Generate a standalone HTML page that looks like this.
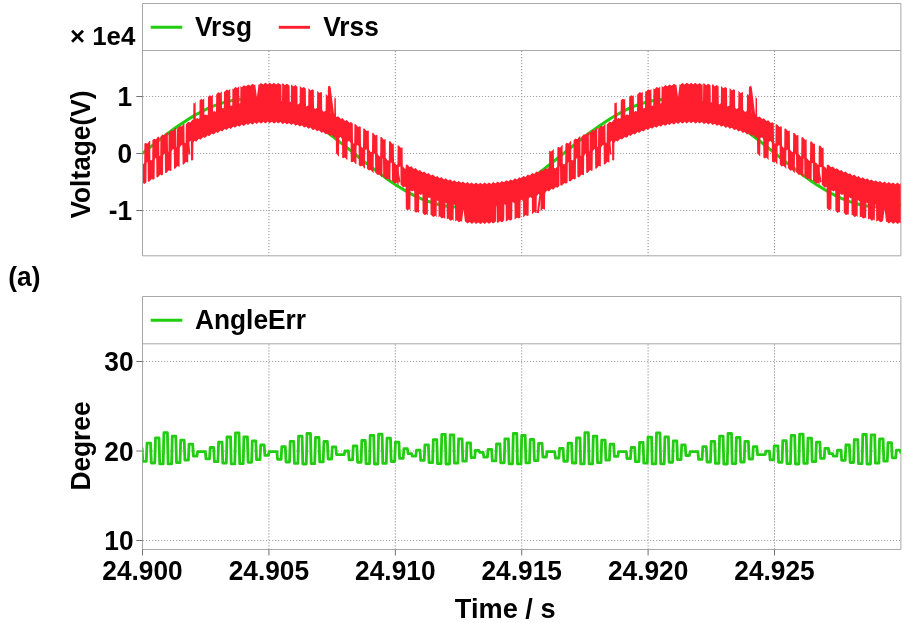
<!DOCTYPE html><html><head><meta charset="utf-8"><title>Voltage and AngleErr</title>
<style>html,body{margin:0;padding:0;background:#fff;overflow:hidden}svg{display:block}text{font-family:"Liberation Sans",Arial,sans-serif;font-weight:bold;fill:#000}</style></head><body>
<svg width="910" height="623" viewBox="0 0 910 623">
<rect width="910" height="623" fill="#fff"/>
<defs><clipPath id="c1"><rect x="142.5" y="50.5" width="758.4" height="205.3"/></clipPath><clipPath id="c2"><rect x="142.5" y="343.8" width="758.4" height="205.7"/></clipPath></defs>
<path d="M268.9 50.5V255.8M268.9 343.8V549.5M395.3 50.5V255.8M395.3 343.8V549.5M521.7 50.5V255.8M521.7 343.8V549.5M648.1 50.5V255.8M648.1 343.8V549.5M774.5 50.5V255.8M774.5 343.8V549.5" stroke="#8e8e8e" stroke-width="1" stroke-dasharray="1.2 1.8" stroke-dashoffset="-0.5" fill="none"/>
<path d="M142.5 96.5H900.9M142.5 153.5H900.9M142.5 210.5H900.9M142.5 361.5H900.9M142.5 451.0H900.9M142.5 540.5H900.9" stroke="#a6a6a6" stroke-width="1" stroke-dasharray="1.2 1.8" stroke-dashoffset="-0.5" fill="none"/>
<path d="M142.5 3.5H900.9V255.8H142.5ZM142.5 50.5H900.9M142.5 296.5H900.9V549.5H142.5ZM142.5 343.8H900.9" stroke="#a8a8a8" stroke-width="1" fill="none"/>
<path d="M136.3 96.5H142.5M136.3 153.5H142.5M136.3 210.5H142.5M136.3 361.5H142.5M136.3 451.0H142.5M136.3 540.5H142.5M142.5 549.5V555.5M268.9 549.5V555.5M395.3 549.5V555.5M521.7 549.5V555.5M648.1 549.5V555.5M774.5 549.5V555.5" stroke="#707070" stroke-width="1" fill="none"/>
<g clip-path="url(#c1)"><path d="M142.5 153.4 L145.5 151 L148.5 148.6 L151.5 146.2 L154.5 143.8 L157.5 141.4 L160.5 139.1 L163.5 136.7 L166.5 134.5 L169.5 132.2 L172.5 130 L175.5 127.8 L178.5 125.7 L181.5 123.7 L184.5 121.7 L187.5 119.7 L190.5 117.9 L193.5 116.1 L196.5 114.3 L199.5 112.7 L202.5 111.1 L205.5 109.6 L208.5 108.2 L211.5 106.9 L214.5 105.7 L217.5 104.6 L220.5 103.6 L223.5 102.6 L226.5 101.8 L229.5 101.1 L232.5 100.5 L235.5 100 L238.5 99.6 L241.5 99.3 L244.5 99.1 L247.5 99 L250.5 99 L253.5 99.2 L256.5 99.4 L259.5 99.8 L262.5 100.2 L265.5 100.8 L268.5 101.4 L271.5 102.2 L274.5 103.1 L277.5 104.1 L280.5 105.1 L283.5 106.3 L286.5 107.5 L289.5 108.9 L292.5 110.3 L295.5 111.9 L298.5 113.5 L301.5 115.2 L304.5 116.9 L307.5 118.7 L310.5 120.7 L313.5 122.6 L316.5 124.6 L319.5 126.7 L322.5 128.9 L325.5 131.1 L328.5 133.3 L331.5 135.6 L334.5 137.9 L337.5 140.2 L340.5 142.6 L343.5 144.9 L346.5 147.3 L349.5 149.7 L352.5 152.2 L355.5 154.6 L358.5 157 L361.5 159.4 L364.5 161.8 L367.5 164.2 L370.5 166.5 L373.5 168.8 L376.5 171.1 L379.5 173.4 L382.5 175.6 L385.5 177.8 L388.5 179.9 L391.5 182 L394.5 184 L397.5 185.9 L400.5 187.8 L403.5 189.6 L406.5 191.4 L409.5 193 L412.5 194.6 L415.5 196.1 L418.5 197.5 L421.5 198.8 L424.5 200.1 L427.5 201.2 L430.5 202.2 L433.5 203.2 L436.5 204 L439.5 204.8 L442.5 205.4 L445.5 205.9 L448.5 206.4 L451.5 206.7 L454.5 206.9 L457.5 207 L460.5 207 L463.5 206.9 L466.5 206.6 L469.5 206.3 L472.5 205.9 L475.5 205.3 L478.5 204.7 L481.5 203.9 L484.5 203.1 L487.5 202.1 L490.5 201.1 L493.5 199.9 L496.5 198.7 L499.5 197.4 L502.5 195.9 L505.5 194.4 L508.5 192.8 L511.5 191.2 L514.5 189.4 L517.5 187.6 L520.5 185.7 L523.5 183.7 L526.5 181.7 L529.5 179.7 L532.5 177.5 L535.5 175.4 L538.5 173.1 L541.5 170.9 L544.5 168.6 L547.5 166.2 L550.5 163.9 L553.5 161.5 L556.5 159.1 L559.5 156.7 L562.5 154.3 L565.5 151.9 L568.5 149.5 L571.5 147 L574.5 144.7 L577.5 142.3 L580.5 139.9 L583.5 137.6 L586.5 135.3 L589.5 133 L592.5 130.8 L595.5 128.6 L598.5 126.5 L601.5 124.4 L604.5 122.4 L607.5 120.4 L610.5 118.5 L613.5 116.7 L616.5 115 L619.5 113.3 L622.5 111.7 L625.5 110.2 L628.5 108.7 L631.5 107.4 L634.5 106.1 L637.5 105 L640.5 103.9 L643.5 103 L646.5 102.1 L649.5 101.4 L652.5 100.7 L655.5 100.2 L658.5 99.7 L661.5 99.4 L664.5 99.1 L667.5 99 L670.5 99 L673.5 99.1 L676.5 99.3 L679.5 99.6 L682.5 100 L685.5 100.6 L688.5 101.2 L691.5 101.9 L694.5 102.8 L697.5 103.7 L700.5 104.7 L703.5 105.9 L706.5 107.1 L709.5 108.4 L712.5 109.8 L715.5 111.3 L718.5 112.9 L721.5 114.5 L724.5 116.3 L727.5 118.1 L730.5 119.9 L733.5 121.9 L736.5 123.9 L739.5 126 L742.5 128.1 L745.5 130.2 L748.5 132.5 L751.5 134.7 L754.5 137 L757.5 139.3 L760.5 141.7 L763.5 144.1 L766.5 146.4 L769.5 148.9 L772.5 151.3 L775.5 153.7 L778.5 156.1 L781.5 158.5 L784.5 160.9 L787.5 163.3 L790.5 165.7 L793.5 168 L796.5 170.3 L799.5 172.6 L802.5 174.8 L805.5 177 L808.5 179.1 L811.5 181.2 L814.5 183.2 L817.5 185.2 L820.5 187.1 L823.5 189 L826.5 190.7 L829.5 192.4 L832.5 194 L835.5 195.6 L838.5 197 L841.5 198.4 L844.5 199.6 L847.5 200.8 L850.5 201.9 L853.5 202.9 L856.5 203.7 L859.5 204.5 L862.5 205.2 L865.5 205.8 L868.5 206.2 L871.5 206.6 L874.5 206.8 L877.5 207 L880.5 207 L883.5 206.9 L886.5 206.7 L889.5 206.4 L892.5 206.1 L895.5 205.5 L898.5 204.9 L900.9 204.4" stroke="#22cc11" stroke-width="3" fill="none"/>
<polygon points="143,164.6 144.2,162.8 144.4,143.6 145.8,142.9 147.2,143.7 149.4,140.9 150.2,140.9 150.4,159.9 151.4,160.5 152.2,159.4 152.4,140.1 154,138.7 155.8,139.5 158,136.7 159.2,136.7 159.4,155.8 160,156.2 160.2,156.1 160.4,136.8 162.4,134.5 164.4,135.2 166.6,132.4 167.8,132.4 168,151.5 168.4,151.8 168.6,132.9 171,130.2 173,130.8 175.2,128.1 176.2,128 176.4,147.1 176.8,147.4 177,128.5 177.2,128.6 179.6,125.9 181.6,126.6 183.8,123.8 184.4,123.7 184.6,142.8 185.6,143.3 185.8,124.5 188.2,121.7 190.2,122.5 192.4,119.8 193.2,119.7 193.4,102.8 194.4,103.4 195.6,101.8 195.8,118.9 197.2,118 198.8,118.9 199.4,117.9 199.6,100.3 201.2,98.9 203,99.7 204.2,98.1 204.4,115.1 205.8,114.4 207.4,115.3 207.8,114.6 208,97 209.8,95.3 211.6,96.2 212.8,94.6 213,111.7 214.4,111 216,112 216.2,94.4 218.2,92.2 220.2,93.1 221.8,91.2 222,108.3 223.2,108.1 223.8,108.4 224,91.2 224.6,91.8 226.8,89.4 228.8,90.4 230.2,88.7 230.4,105.8 231.6,105.4 232.2,105.7 232.4,88.6 233.2,89.3 235.2,87.1 237.4,88.1 239.2,86.2 239.4,103.4 240.2,103.3 240.4,86.1 241.8,87.3 243.8,85.2 246,86.3 248.2,84.4 250.4,85.8 252.4,83.8 254.6,85.1 255.2,84.6 256.8,96.4 257,96.4 258.4,85 258.6,84.3 259,84.8 261,83 263.2,84.4 263.4,84.4 265.2,82.8 266.8,83.4 267.6,84.4 269.6,82.7 271.8,84.2 272,84.2 273.8,82.7 276.2,84.5 278.2,82.9 280.4,84.6 280.6,84.7 281.4,83.8 281.6,100.9 282,100.7 282.2,83.3 283.6,83.7 284.8,85.2 286.6,83.7 288.2,84.6 289,85.6 289.2,85.6 289.6,85.2 289.8,102.3 290.8,101.7 291,84.3 293.4,86.4 295.2,85.1 297.4,86.8 297.6,104.4 297.8,104.4 299.6,103.2 299.8,85.9 302,88.1 303.8,86.9 305.8,88.5 306,106.1 306.4,106.4 308.2,105.3 308.4,88.1 310.6,90.4 312.4,89.3 313.8,90.1 314,107.6 314.8,108.8 315,108.9 316.8,107.9 317,107.9 317.2,90.7 319.2,93.1 321,92 322,92.5 322.2,110 323.4,111.7 323.6,111.8 325.4,110.9 325.6,110.9 325.8,93.7 327.8,96.2 328,86.5 329.6,85.7 330.2,85.9 330.4,112.9 332,115 332.2,115.1 333.8,114.2 334.2,114.3 334.4,97.1 335.8,98.6 336,116.5 336.4,117.1 338.2,116.2 340.8,118.9 342.4,118.1 345,120.9 346.8,120.1 349.4,122.8 351,122 352.8,123.6 353,142.7 353.6,143.7 354.2,143.3 354.4,124.3 355.8,124.2 358,126.9 359.6,126.2 360.8,126.9 361,146 362.2,147.9 363,147.3 363.2,128.4 364.4,128.5 366.6,131.1 368.2,130.4 368.8,130.7 369,149.6 370.8,152.2 372,151.4 372.2,132.6 373.6,133.2 375,135.3 375.2,135.4 376.8,134.8 377.4,135 377.6,153.9 379.4,156.5 380.2,155.9 380.4,137 381.6,137.1 383.8,139.8 385.4,139.1 385.6,139.1 385.8,158 388,160.8 388.8,160.2 389,141.3 390.2,141.3 392.4,144 393.8,143.3 394,162.1 396.6,164.9 397.4,164.4 397.6,145.5 398.8,145.5 401,148.1 402.6,147.3 402.8,166.2 405.2,168.9 405.6,168.6 405.8,164.8 407.2,164.5 409.6,167.1 411.4,166.3 413.8,169 415.6,168.1 418.2,170.7 420,169.9 422.4,172.5 424.2,171.5 426.8,174 428.6,173.1 431,175.6 432.8,174.5 435.4,176.9 437.2,175.9 439.6,178.3 441.4,177.1 444,179.4 445.8,178.3 448.2,180.5 450,179.3 452.6,181.4 454.4,180.2 456.8,182.3 458.6,180.9 461.2,182.8 463,181.5 465.4,183.5 467.4,182 469.6,183.8 469.8,183.8 471.6,182.4 474,184.2 476,182.6 478.2,184.2 478.4,184.2 480.2,182.7 482.6,184.3 484.6,182.6 486.8,184.1 487,184.1 489,182.4 491.2,183.9 493.2,182.1 495.4,183.4 497.6,181.6 499.8,183 501.8,181 504,182.2 506.2,180.2 508.4,181.5 510.4,179.4 512.6,180.4 514.8,178.3 517,179.5 519.2,177.2 521.2,178.2 523.4,176 525.6,177 527.8,174.6 529.8,175.5 532.2,173.1 534.2,174.1 536.4,171.6 538.4,172.4 540.8,169.9 542.8,170.8 545,168.2 547,168.9 548.8,166.7 549,169.9 549.2,150.8 551.4,151.6 553.6,148.9 553.8,148.8 554,167.8 555.6,168.6 557.2,166.5 557.4,147.3 558.8,146.9 560,147.7 562.2,144.9 562.6,144.8 562.8,163.8 564.2,164.6 565.2,163.2 565.4,143.9 566.8,142.8 568.6,143.6 570.8,140.8 571.2,140.7 571.4,159.7 572.8,160.4 573.4,159.6 573.6,140.3 575.4,138.6 577.2,139.3 579.4,136.5 580.4,136.5 580.6,155.6 581.2,156 581.4,137.1 583.8,134.3 585.8,135 588,132.2 588.8,132.1 589,151.2 589.4,151.4 589.6,132.5 590,132.8 592.4,130 594.4,130.7 596.6,127.9 597.2,127.8 597.4,146.8 598,147.1 598.2,128.2 598.6,128.5 601,125.7 603,126.5 605.2,123.7 605.4,123.6 605.6,142.6 606.6,142.9 606.8,124 607.2,124.3 609.6,121.6 611.6,122.4 613.8,119.6 614.2,119.5 614.4,102.6 615.8,103.3 616.8,101.9 617,119 618.4,117.9 620.2,118.8 620.6,118.1 620.8,100.5 622.6,98.8 624.4,99.5 625.2,98.5 625.4,115.5 627,114.2 628.8,115.2 629,114.8 629.2,97.2 631,95.3 633,96.1 633.8,95.1 634,112.1 635.6,110.9 637,111.5 637.2,94.4 637.4,94.6 639.6,92.1 641.6,93 642.8,91.5 643,108.5 644.4,107.9 645,108.1 645.2,91 646,91.7 648.2,89.3 650.2,90.3 651.4,88.8 651.6,105.9 653,105.4 653.2,105.4 653.4,88.2 654.6,89.2 656.6,87 658.8,88 660.2,86.5 660.4,103.6 661.4,103.2 661.6,86 663.2,87.2 665.2,85.1 667.4,86.3 669.6,84.4 671.8,85.7 673.8,83.8 676,85.1 676.4,84.8 678,97.3 679.6,83.9 680.4,84.8 682.4,82.9 684.6,84.4 684.8,84.4 686.6,82.8 688.2,83.4 689,84.4 691,82.7 693.2,84.2 693.4,84.2 695.2,82.7 697.6,84.5 699.6,82.9 701.8,84.7 702,84.7 702.6,84 702.8,101.1 703,101 703.2,83.5 704.4,83.4 706.2,85.2 708,83.8 709.6,84.6 710.4,85.6 710.6,85.7 710.8,102.7 711.8,101.9 712,84.5 713.2,84.6 714.8,86.5 716.6,85.1 718.6,86.6 718.8,104.1 719.2,104.5 720.8,103.3 721,86 723.4,88.2 725.2,87 727,88.3 727.2,105.8 727.6,106.4 727.8,106.5 729.4,105.4 729.6,88.1 732,90.5 733.8,89.3 735,90 735.2,107.5 736.2,108.9 736.4,109 738.2,108 738.4,90.7 740.6,93.2 742.4,92.1 743,92.3 743.2,109.8 744.8,111.8 745,111.9 746.8,111 747,93.7 748.8,95.6 749,86.5 749.2,86.8 751,85.8 751.4,85.9 751.6,112.8 753.6,115.2 755.2,114.4 755.4,114.4 755.6,97.1 757,98.5 757.2,116.3 757.8,117.2 759.6,116.4 762.2,119 763.8,118.2 766.4,121 768.2,120.2 770.8,122.9 772.4,122.2 773.8,123.2 774,142.2 775,143.8 775.4,143.5 775.6,124.6 777,124.3 779.4,127 781,126.3 781.8,126.7 782,145.7 783.6,148 784.2,147.6 784.4,128.7 785.8,128.6 788,131.3 789.6,130.6 789.8,130.6 790,149.5 792.2,152.3 793,151.8 793.2,132.9 794.4,132.9 796.6,135.6 798.2,134.9 798.4,134.9 798.6,153.8 800.8,156.6 801.2,156.3 801.4,137.4 802.8,137.1 805.2,139.9 806.6,139.2 806.8,158 809.4,160.9 810,160.5 810.2,141.6 811.6,141.5 813.8,144.1 815,143.5 815.2,162.2 816.6,163 818,165.1 818.6,164.6 818.8,145.7 820.2,145.6 822.4,148.2 823.6,147.5 823.8,166.3 825.2,167 826.6,169.1 826.8,165.2 828.4,164.5 831,167.2 832.8,166.4 835.2,169.1 837,168.2 839.6,170.8 841.4,170 843.8,172.6 845.6,171.6 848.2,174.1 850,173.2 852.4,175.7 854.2,174.6 856.8,177 858.6,176 861,178.4 862.8,177.2 865.4,179.4 867.2,178.3 869.6,180.6 871.4,179.4 874,181.4 875.8,180.2 878.2,182.3 880,181 882.6,182.9 884.4,181.6 886.8,183.5 888.8,182.1 891,183.8 891.2,183.8 893,182.4 895.4,184.2 897.4,182.6 899.6,184.2 899.8,184.2 900.8,183.1 900.8,223.5 899.8,222.4 899.6,222.4 897.4,224 895.4,222.1 894.4,223.3 893,223.7 891.2,222 891,222 888.8,223.4 886.8,221.4 886.2,222.1 886,221.4 884.6,209 883,221.6 882.6,221 882.4,221 881.8,221.7 880.2,222.3 878.2,220.2 876.2,221.7 876,205.1 875,204.4 874.8,220.7 873.8,219.5 873,220.3 871.6,220.7 869.6,218.5 868,219.8 867.8,203.3 866.4,202.5 866.2,218.8 865.2,217.5 864.4,218.3 863,218.6 861,216.4 859.8,217.6 859.6,200.9 859.2,201 857.8,200.1 857.6,216.9 856.6,215.8 856,216.4 854.4,217 852.4,214.8 851.6,215.6 851.4,197.9 850.4,198.2 849,197 848.8,214.9 848,214 847.2,214.7 845.8,215.1 843.8,212.8 843.6,194.2 841.8,195 840.2,193.5 840,212.5 839.4,211.8 837.4,212.9 835.4,210.8 835.2,190.5 833.2,191.5 831.6,189.9 831.4,210 830.8,209.3 828.8,210.3 826.8,208.1 826.6,186.8 824.6,187.7 822.2,184.9 821.8,185.2 821.6,166.9 821,167.2 819.8,166.9 819.6,185.2 818,182.8 816,183.6 813.6,180.8 813,181.3 812.8,162.9 811.8,163.1 811.6,181.5 809.4,178.6 807.4,179.4 805,176.6 804.4,177 804.2,158.6 803.6,158.8 803.4,177.3 803,177.2 800.8,174.3 798.8,175.1 796.4,172.2 796.2,172.4 796,154.1 795,154.5 794.8,173 794.4,172.9 792.2,170 790.2,170.8 788,168 787.8,149.4 786.4,150.2 786.2,168.7 785.8,168.6 783.6,165.7 781.6,166.5 779.8,164.5 779.6,145.6 779.2,145.2 777.6,146 777.4,164.5 777.2,164.4 775,161.5 773.4,162.4 772,161.6 771.8,142.8 770.6,141.1 768.8,141.9 768.6,160.3 766.4,157.5 764.8,158.5 763.4,157.6 763.2,138.9 762,137.2 760.4,138.1 760.2,156.5 760,156.5 757.8,153.7 757.2,154.3 757,137.6 755.8,137.9 753.4,135.3 751.4,136.1 749.2,133.5 747,134.4 744.8,132 742.8,132.9 740.6,130.4 738.4,131.4 736.2,129.1 735.4,129.8 734,130 732,127.7 729.8,128.8 727.6,126.6 727,127.2 725.4,127.7 723.4,125.4 721.2,126.7 719,124.6 718.4,125.2 716.8,125.8 714.8,123.7 712.6,125.1 710.6,123.1 710.4,123.1 708.2,124.4 706.2,122.4 705.2,123.5 703.8,123.9 702,122.1 701.8,122.1 699.6,123.6 697.6,121.7 696.6,122.9 695.2,123.4 693.4,121.7 693.2,121.7 691,123.3 689,121.6 688.2,122.6 686.6,123.4 684.8,121.8 684.6,121.8 683.6,123.1 682.2,123.6 680.4,122 678,124 676.2,122.5 676,122.5 675,123.8 673.6,124.4 671.8,122.9 669.4,125.1 667.6,123.7 667.4,123.7 666.6,124.9 665,125.8 663.2,124.4 660.8,126.7 659,125.5 656.4,127.7 654.6,126.4 652.2,128.8 650.4,127.7 647.8,130.1 646,128.9 643.6,131.4 641.8,130.4 639.2,132.9 637.4,131.8 636.4,133.3 634.8,134.4 633.2,133.5 630.6,136.1 628.8,135.1 627.8,136.7 626.2,137.8 624.6,136.9 622,139.6 620.2,138.7 617.6,141.5 616,140.7 615.8,140.8 614.4,142.9 614.2,160.1 613.6,160.4 612.2,160 612,140.9 611.6,140.6 609.6,143.3 609.4,162.4 609,162.5 607.4,161.7 605,164.5 603.8,164.3 603.6,145.1 603,144.7 601,147.4 600.8,166.5 600.4,166.6 598.8,165.8 596.4,168.7 595.2,168.5 595,149.4 594.4,148.9 592.8,151.4 592.6,170.5 591.8,170.9 590.2,170.1 587.6,173 586.2,172.5 586,153.4 585.8,153.2 584.2,155.7 584,174.9 583.2,175.2 581.6,174.5 579,177.4 577.4,176.7 577.2,157.5 576,159.5 575.8,178.8 574.6,179.5 573,178.7 570.4,181.6 568.8,180.9 568.6,161.8 567.8,163.1 567.6,182.5 566,183.7 564.4,182.9 561.8,185.8 560.2,185 560,165.9 559.6,166.6 559.4,185.9 557.4,187.8 555.8,186.9 553.2,189.7 551.4,188.8 549,191.6 547.2,190.5 547,190.6 545.2,193 545,209.6 544.6,209.7 542.8,208.7 540.6,211.4 540.4,194.9 540.2,194.9 538.6,194 538.4,194 536.8,196.2 536.6,212.9 536,213.1 534.2,212 532,214.6 531.8,198.1 531.6,198.1 530,197.1 529.8,197.2 528.8,198.6 528.6,215.4 527.4,216.1 525.6,214.9 523.2,217.4 523,200.9 521.4,199.8 521.2,199.8 520.6,200.8 520.4,217.5 518.8,218.6 517,217.4 514.6,219.7 514.4,203.2 512.8,202 512.4,202.4 512.2,219.2 511.8,219.7 510.2,220.7 508.4,219.4 507.2,221 505.8,221.6 505.6,205 504.4,204 504.2,220.3 504,220.3 503,221.7 501.6,222.3 499.8,220.9 498.2,222.7 497,222.8 496.8,206.2 496.4,205.9 496.2,222.2 495.6,221.5 495.4,221.5 494.4,222.8 493,223.4 491.2,221.8 490.4,222.9 488.8,223.8 487,222.2 486.8,222.2 484.6,224 482.6,222.2 481.6,223.4 480.2,224 478.4,222.4 478.2,222.4 476,224 474,222.1 473,223.2 471.6,223.7 469.8,222 469.6,221.9 467.4,223.4 465.4,221.4 465,221.9 463.6,209.9 463.4,209.9 462,222.1 461.2,221 461,221 460.4,221.6 458.8,222.3 456.8,220.2 455.2,221.5 455,205.1 453.8,204.6 453.6,220.9 452.4,219.5 451.6,220.3 450.2,220.7 448.2,218.4 446.8,219.6 446.6,203.2 445.4,202.8 445.2,219.2 443.8,217.5 441.8,218.6 439.6,216.3 438.6,217.4 438.4,200.7 438,200.9 436.8,200.5 436.6,217.3 435.2,215.7 434.6,216.3 433,216.9 431,214.7 430.6,215.2 430.4,197.5 429.2,198.1 428,197.4 427.8,215.3 426.6,213.9 425.8,214.7 424.4,215 422.6,213 422.4,193.9 420.6,194.9 419.2,193.9 419,212.9 418,211.7 416,212.8 414.4,211.3 414.2,191.1 413.8,190.4 412,191.4 410.6,190.3 410.4,210.5 409.4,209.2 407.4,210.2 405.8,208.7 405.6,187.3 405.2,186.6 403.2,187.5 400.8,184.8 400.6,184.9 400.4,166.6 398.8,167 398.6,185.4 396.6,182.6 394.6,183.5 392.2,180.7 392,180.8 391.8,162.5 390.6,162.9 390.4,181.4 390.2,181.3 388,178.5 386,179.3 383.6,176.4 383.2,176.7 383,158.4 382.6,158.6 382.4,177.1 381.6,177.1 379.4,174.2 377.4,175 375.2,172.2 375,153.6 373.8,154.3 373.6,172.9 373,172.8 370.8,169.9 368.8,170.6 367,168.6 366.8,149.7 366.4,149.3 365.2,150 365,168.6 364.4,168.5 362.2,165.6 360.4,166.4 358.8,165 358.6,146.2 357.8,145 356.6,145.8 356.4,164.3 355.8,164.2 353.6,161.4 352,162.3 350.8,161.7 350.6,142.9 349.2,140.9 347.6,141.8 347.4,160.3 347.2,160.2 345,157.4 343.4,158.3 342.2,157.7 342,139 340.6,137.1 339.2,137.9 339,156.4 338.6,156.4 336.4,153.6 336,154 335.8,137.3 334.4,137.8 332,135.1 330,136 327.8,133.4 325.6,134.3 323.4,131.9 321.4,132.8 319.2,130.3 317,131.3 314.8,129 314,129.7 312.6,130 310.6,127.6 308.4,128.8 306.2,126.5 305.6,127.1 304,127.6 302,125.3 299.8,126.6 297.6,124.5 297,125.1 295.4,125.7 293.4,123.6 291.2,125 289.2,123.1 289,123 286.8,124.4 284.8,122.4 283.8,123.5 282.4,123.9 280.6,122.1 280.4,122.1 278.2,123.6 276.2,121.7 275.2,122.9 273.8,123.4 272,121.7 271.8,121.7 269.6,123.3 267.6,121.6 266.8,122.6 265.2,123.4 263.4,121.8 263.2,121.8 262.2,123.1 260.8,123.6 259,122 256.6,124 254.8,122.5 254.6,122.6 253.6,123.8 252.2,124.5 250.4,123 248,125.1 246.2,123.8 246,123.8 245.2,124.9 243.6,125.9 241.8,124.5 239.4,126.7 237.6,125.5 235,127.8 233.2,126.5 230.8,128.9 229,127.8 226.4,130.1 224.6,129 222.2,131.5 220.4,130.5 217.8,133 216,131.9 215,133.4 213.4,134.5 211.8,133.6 209.2,136.2 207.4,135.2 206.6,136.5 204.8,137.9 203.2,137 200.6,139.8 198.8,138.8 196.2,141.7 194.6,140.8 194.4,140.9 193.4,142.5 193.2,159.8 192.2,160.6 191,160.3 190.8,141.2 190.2,140.7 188.4,143.3 188.2,162.4 187.6,162.6 186,161.8 183.8,164.5 182.6,164.5 182.4,145.4 181.6,144.8 179.8,147.4 179.6,166.6 179,166.8 177.4,166 175.2,168.8 174,168.8 173.8,149.6 173,149 171.6,151.3 171.4,170.5 170.4,171.1 168.8,170.3 166.4,173.1 165,172.8 164.8,153.7 164.4,153.4 163.2,155.4 163,174.6 161.8,175.4 160.2,174.6 157.8,177.5 156.4,177.1 156.2,158 155.8,157.7 154.8,159.4 154.6,178.7 153.2,179.7 151.6,178.9 149.2,181.7 147.8,181.4 147.6,162.2 147.2,161.9 146.6,163 146.4,182.3 144.6,183.9 143,183.1" fill="#ff1e2d"/>
<path d="M329.7 87.5L333.4 117.3M187.2 129.6L189.4 154.5M328.7 90.2L331.8 116.7M540.5 193.6L537.8 213.1M396.5 165.8L399.6 182.3M750.8 87.5L754.5 117.3M608.3 129.6L610.5 154.5M749.8 90.2L752.9 116.7M961.6 193.6L958.9 213.1M817.6 165.8L820.7 182.3" stroke="#ff1e2d" stroke-width="2" fill="none"/></g>
<g clip-path="url(#c2)"><path d="M138.6 448.3 L142.1 448.3 L142.8 461.3 L146.3 461.3 L147 443.1 L150.6 443.1 L151.3 463 L154.8 463 L155.5 437.9 L159 437.9 L159.7 463.9 L163.2 463.9 L163.9 432.6 L167.4 432.6 L168.1 463.9 L171.6 463.9 L172.3 436.2 L175.8 436.2 L176.5 462.6 L180 462.6 L180.7 440.2 L184.2 440.2 L184.9 460.1 L188.4 460.1 L189.1 444.1 L192.7 444.1 L193.4 456.2 L196.9 456.2 L197.6 451.7 L201.1 451.7 L201.8 451.7 L205.3 451.7 L206 458.8 L209.5 458.8 L210.2 447.5 L213.7 447.5 L214.4 461.7 L217.9 461.7 L218.6 442.2 L222.1 442.2 L222.8 463.2 L226.3 463.2 L227 437 L230.6 437 L231.2 463.9 L234.8 463.9 L235.5 432.9 L239 432.9 L239.7 463.7 L243.2 463.7 L243.9 436.8 L247.4 436.8 L248.1 462.3 L251.6 462.3 L252.3 440.8 L255.8 440.8 L256.5 459.6 L260 459.6 L260.7 445 L264.2 445 L264.9 455.4 L268.4 455.4 L269.1 451.7 L272.6 451.7 L273.4 451.7 L276.9 451.7 L277.6 459.4 L281.1 459.4 L281.8 446.6 L285.3 446.6 L286 462 L289.5 462 L290.2 441.4 L293.7 441.4 L294.4 463.4 L297.9 463.4 L298.6 436.1 L302.1 436.1 L302.8 464 L306.3 464 L307 433.5 L310.5 433.5 L311.2 463.6 L314.7 463.6 L315.5 437.5 L319 437.5 L319.7 461.9 L323.2 461.9 L323.9 441.5 L327.4 441.5 L328.1 459 L331.6 459 L332.3 446.8 L335.8 446.8 L336.5 454.6 L340 454.6 L340.7 454.7 L344.2 454.7 L344.9 451 L348.4 451 L349.1 459.9 L352.6 459.9 L353.3 445.8 L356.8 445.8 L357.6 462.3 L361.1 462.3 L361.8 440.5 L365.3 440.5 L366 463.6 L369.5 463.6 L370.2 435.3 L373.7 435.3 L374.4 464 L377.9 464 L378.6 434.2 L382.1 434.2 L382.8 463.4 L386.3 463.4 L387 438.2 L390.5 438.2 L391.2 461.5 L394.7 461.5 L395.4 442.1 L398.9 442.1 L399.6 458.4 L403.2 458.4 L403.9 448.6 L407.4 448.6 L408.1 453.6 L411.6 453.6 L412.3 456.2 L415.8 456.2 L416.5 450.1 L420 450.1 L420.7 460.4 L424.2 460.4 L424.9 444.9 L428.4 444.9 L429.1 462.6 L432.6 462.6 L433.3 439.7 L436.8 439.7 L437.5 463.7 L441 463.7 L441.8 434.4 L445.3 434.4 L446 464 L449.5 464 L450.2 434.8 L453.7 434.8 L454.4 463.2 L457.9 463.2 L458.6 438.8 L462.1 438.8 L462.8 461.1 L466.3 461.1 L467 442.8 L470.5 442.8 L471.2 457.7 L474.7 457.7 L475.4 450.4 L478.9 450.4 L479.6 452.3 L483.1 452.3 L483.9 457.2 L487.4 457.2 L488.1 449.3 L491.6 449.3 L492.3 460.9 L495.8 460.9 L496.5 444 L500 444 L500.7 462.8 L504.2 462.8 L504.9 438.8 L508.4 438.8 L509.1 463.8 L512.6 463.8 L513.3 433.5 L516.8 433.5 L517.5 463.9 L521 463.9 L521.7 435.5 L525.2 435.5 L525.9 462.9 L529.5 462.9 L530.2 439.5 L533.7 439.5 L534.4 460.6 L537.9 460.6 L538.6 443.4 L542.1 443.4 L542.8 457 L546.3 457 L547 451.7 L550.5 451.7 L551.2 451.7 L554.7 451.7 L555.4 458 L558.9 458 L559.6 448.4 L563.1 448.4 L563.8 461.3 L567.4 461.3 L568.1 443.2 L571.6 443.2 L572.3 463 L575.8 463 L576.5 437.9 L580 437.9 L580.7 463.9 L584.2 463.9 L584.9 432.7 L588.4 432.7 L589.1 463.9 L592.6 463.9 L593.3 436.1 L596.8 436.1 L597.5 462.6 L601 462.6 L601.7 440.1 L605.2 440.1 L605.9 460.1 L609.4 460.1 L610.1 444.1 L613.7 444.1 L614.4 456.3 L617.9 456.3 L618.6 451.7 L622.1 451.7 L622.8 451.7 L626.3 451.7 L627 458.7 L630.5 458.7 L631.2 447.5 L634.7 447.5 L635.4 461.6 L638.9 461.6 L639.6 442.3 L643.1 442.3 L643.8 463.2 L647.3 463.2 L648 437.1 L651.6 437.1 L652.2 463.9 L655.8 463.9 L656.5 432.8 L660 432.8 L660.7 463.8 L664.2 463.8 L664.9 436.8 L668.4 436.8 L669.1 462.3 L672.6 462.3 L673.3 440.8 L676.8 440.8 L677.5 459.6 L681 459.6 L681.7 444.9 L685.2 444.9 L685.9 455.5 L689.4 455.5 L690.1 451.7 L693.6 451.7 L694.4 451.7 L697.9 451.7 L698.6 459.3 L702.1 459.3 L702.8 446.7 L706.3 446.7 L707 462 L710.5 462 L711.2 441.4 L714.7 441.4 L715.4 463.4 L718.9 463.4 L719.6 436.2 L723.1 436.2 L723.8 464 L727.3 464 L728 433.5 L731.5 433.5 L732.2 463.6 L735.7 463.6 L736.4 437.5 L740 437.5 L740.7 462 L744.2 462 L744.9 441.4 L748.4 441.4 L749.1 459 L752.6 459 L753.3 446.7 L756.8 446.7 L757.5 454.6 L761 454.6 L761.7 454.6 L765.2 454.6 L765.9 451.1 L769.4 451.1 L770.1 459.9 L773.6 459.9 L774.3 445.8 L777.9 445.8 L778.6 462.3 L782.1 462.3 L782.8 440.6 L786.3 440.6 L787 463.6 L790.5 463.6 L791.2 435.3 L794.7 435.3 L795.4 464 L798.9 464 L799.6 434.1 L803.1 434.1 L803.8 463.4 L807.3 463.4 L808 438.1 L811.5 438.1 L812.2 461.6 L815.7 461.6 L816.4 442.1 L819.9 442.1 L820.6 458.4 L824.2 458.4 L824.9 448.4 L828.4 448.4 L829.1 453.6 L832.6 453.6 L833.3 456.1 L836.8 456.1 L837.5 450.2 L841 450.2 L841.7 460.4 L845.2 460.4 L845.9 445 L849.4 445 L850.1 462.5 L853.6 462.5 L854.3 439.7 L857.8 439.7 L858.5 463.7 L862.1 463.7 L862.8 434.5 L866.3 434.5 L867 464 L870.5 464 L871.2 434.8 L874.7 434.8 L875.4 463.2 L878.9 463.2 L879.6 438.8 L883.1 438.8 L883.8 461.1 L887.3 461.1 L888 442.7 L891.5 442.7 L892.2 457.8 L895.7 457.8 L896.4 450.2 L899.9 450.2 L900.6 452.4 L904.1 452.4 L904.9 457.2 L908.4 457.2" stroke="#22cc11" stroke-width="2.8" stroke-linejoin="round" fill="none"/></g>
<path d="M150.7 27.2H182.3M150.7 320.3H182.3" stroke="#22cc11" stroke-width="3" fill="none"/>
<path d="M278.8 27.3H310" stroke="#ff1e2d" stroke-width="2.9" fill="none"/>
<g font-size="27.2" opacity="0.999">
<text transform="translate(195.0 35.7) scale(0.967 1)">Vrsg</text><text transform="translate(323.2 35.7) scale(0.967 1)">Vrss</text>
<text transform="translate(195.0 329.4) scale(0.967 1)">AngleErr</text>
<text transform="translate(70.0 45.2) scale(0.967 1)" font-size="26.7">× 1e4</text>
<text transform="translate(132.2 106.0) scale(0.967 1)" text-anchor="end">1</text>
<text transform="translate(132.2 163.0) scale(0.967 1)" text-anchor="end">0</text>
<text transform="translate(132.2 220.0) scale(0.967 1)" text-anchor="end">-1</text>
<text transform="translate(133.6 371.0) scale(0.967 1)" text-anchor="end">30</text>
<text transform="translate(133.6 460.5) scale(0.967 1)" text-anchor="end">20</text>
<text transform="translate(133.6 550.0) scale(0.967 1)" text-anchor="end">10</text>
<text transform="translate(142.5 580.2) scale(0.967 1)" text-anchor="middle">24.900</text>
<text transform="translate(268.9 580.2) scale(0.967 1)" text-anchor="middle">24.905</text>
<text transform="translate(395.3 580.2) scale(0.967 1)" text-anchor="middle">24.910</text>
<text transform="translate(521.7 580.2) scale(0.967 1)" text-anchor="middle">24.915</text>
<text transform="translate(648.1 580.2) scale(0.967 1)" text-anchor="middle">24.920</text>
<text transform="translate(774.5 580.2) scale(0.967 1)" text-anchor="middle">24.925</text>
<text transform="translate(505.2 617.5) scale(0.992 1)" text-anchor="middle" font-size="27.4">Time / s</text>
<text transform="translate(89.6 154.5) rotate(-90) scale(0.967 1)" text-anchor="middle">Voltage(V)</text>
<text transform="translate(89.6 446) rotate(-90) scale(0.967 1)" text-anchor="middle">Degree</text>
<text transform="translate(8.3 286.2) scale(0.967 1)">(a)</text>
</g></svg></body></html>
